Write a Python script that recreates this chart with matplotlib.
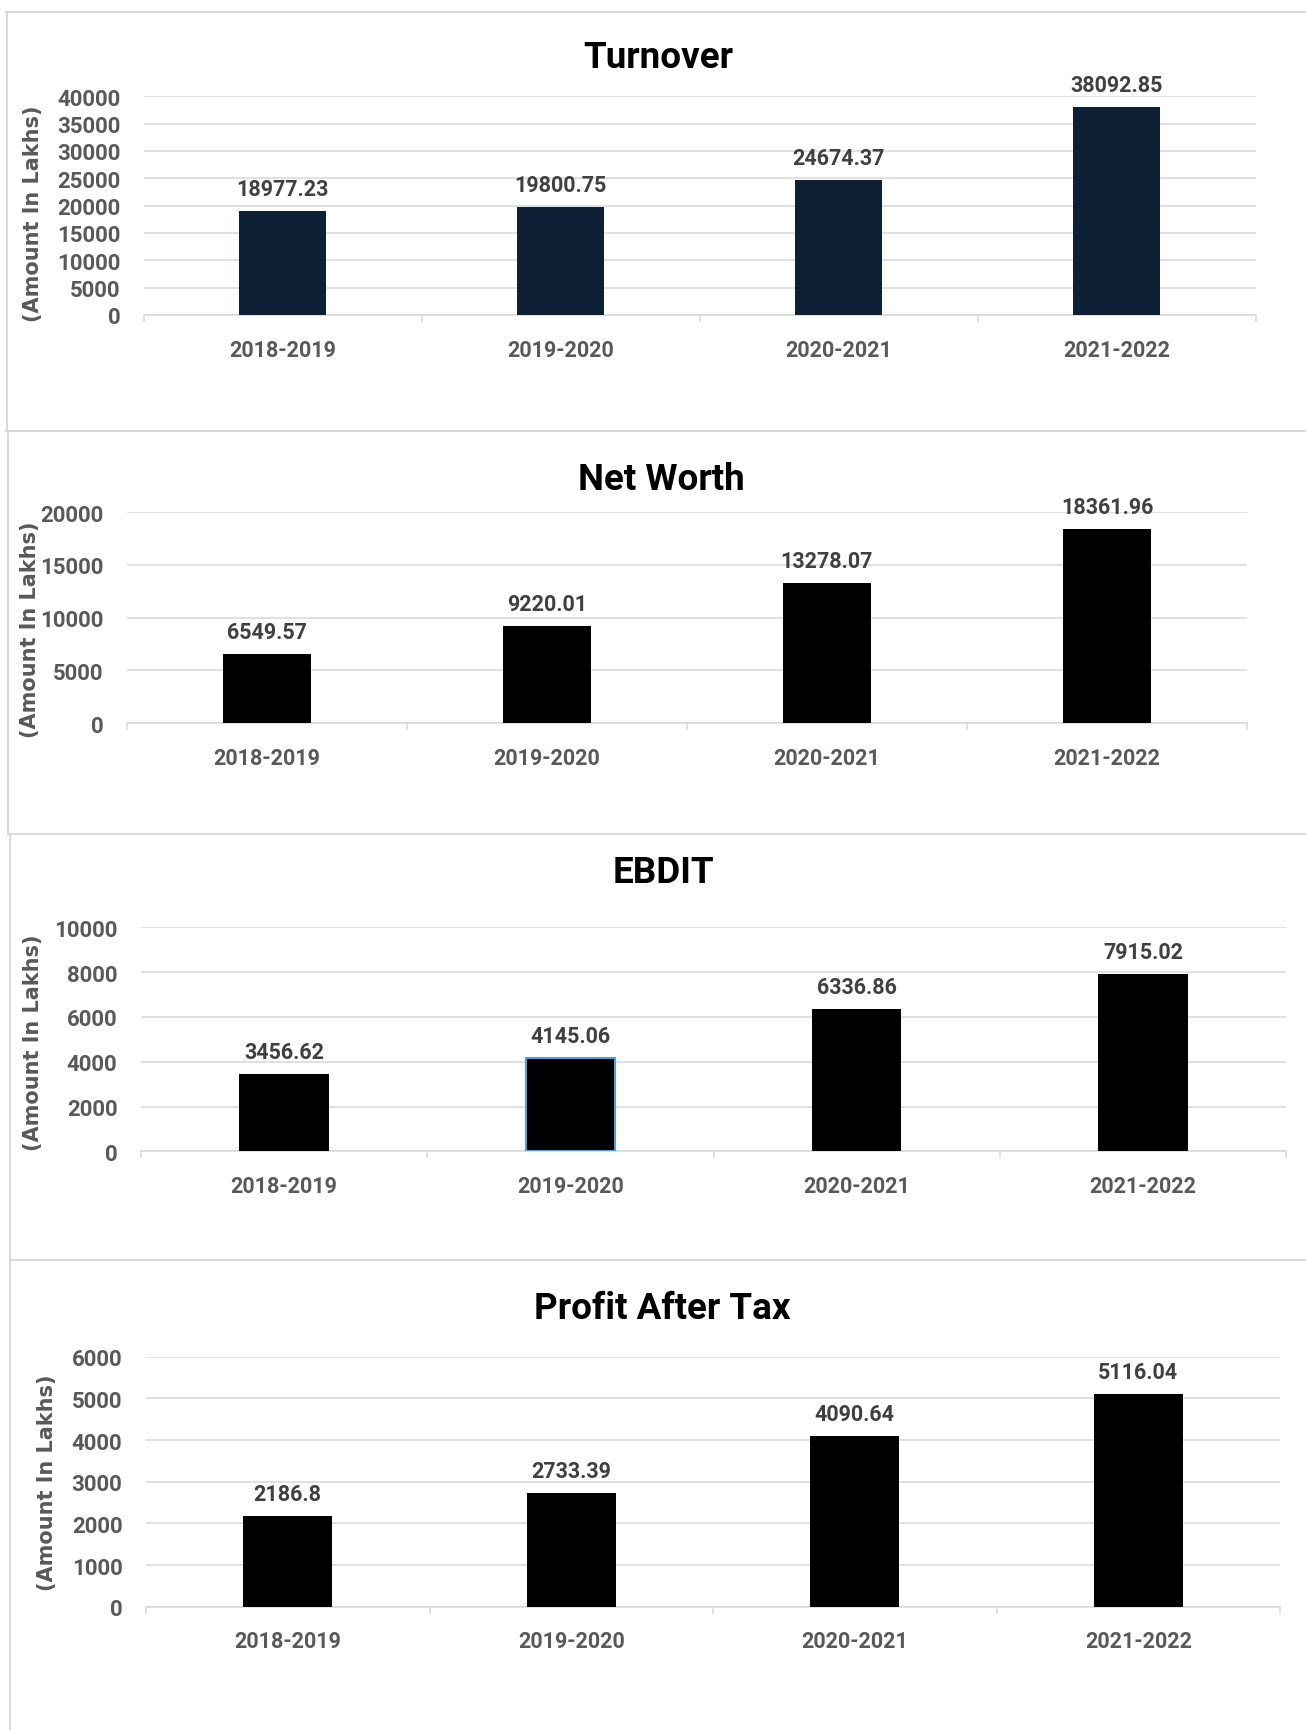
import matplotlib
matplotlib.use('Agg')
import matplotlib.pyplot as plt
from matplotlib.lines import Line2D
from matplotlib.ticker import FuncFormatter

# ---------------- data ----------------
categories = ['2018-2019', '2019-2020', '2020-2021', '2021-2022']
turnover = [18977.23, 19800.75, 24674.37, 38092.85]
net_worth = [6549.57, 9220.01, 13278.07, 18361.96]
ebdit = [3456.62, 4145.06, 6336.86, 7915.02]
profit_after_tax = [2186.8, 2733.39, 4090.64, 5116.04]
titles = ['Turnover', 'Net Worth', 'EBDIT', 'Profit After Tax']
y_label = '(Amount In Lakhs)'
y_max = [40000, 20000, 10000, 6000]
y_step = [5000, 5000, 2000, 1000]

# ---------------- layout / style ----------------
W, H, DPI = 1306, 1731, 100
FONT = ['Roboto', 'DejaVu Sans']
GRID = '#D9D9D9'
TICK_C = '#595959'
VAL_C = '#404040'

layout = [
    # axes box in px: x0, x1, y_top, y_zero ; title (x, baseline) ; ylabel centre
    dict(box=(143.8, 1256, 97.3, 316.0), title=(658.5, 68), ylab=(33, 214),
         color='#0E2035'),
    dict(box=(126.8, 1247, 513.0, 724.3), title=(661, 490), ylab=(30, 630),
         color='#000000'),
    dict(box=(141.0, 1286, 928.3, 1152.3), title=(663, 883), ylab=(33.5, 1043),
         color='#000000'),
    dict(box=(146.0, 1280, 1357.7, 1607.7), title=(662, 1319), ylab=(47, 1483),
         color='#000000'),
]
series = [turnover, net_worth, ebdit, profit_after_tax]

fig = plt.figure(figsize=(W / DPI, H / DPI), dpi=DPI)
fig.patch.set_facecolor('white')


def fx(x):
    return x / W


def fy(y):
    return 1 - y / H


# panel borders
border_lines = [
    ((6, W), (13, 13)), ((6, W), (432, 432)), ((8, W), (835, 835)), ((10, W), (1261, 1261)),
    ((7, 7), (13, 432)), ((8, 8), (432, 835)), ((10, 10), (835, H)),
]
for xs, ys in border_lines:
    fig.add_artist(Line2D([fx(v) for v in xs], [fy(v) for v in ys],
                          color=GRID, lw=1.5, transform=fig.transFigure))

for i, (vals, lay) in enumerate(zip(series, layout)):
    x0, x1, yt, yz = lay['box']
    ax = fig.add_axes([fx(x0), fy(yz), (x1 - x0) / W, (yz - yt) / H])
    xs = list(range(len(categories)))
    edge = ['none'] * len(vals)
    if i == 2:
        edge[1] = '#5B9BD5'
    ax.bar(xs, vals, width=0.313, color=lay['color'], edgecolor=edge,
           linewidth=1.5, zorder=3)
    ax.set_xlim(-0.5, len(categories) - 0.5)
    ax.set_ylim(0, y_max[i])
    ax.set_yticks(list(range(0, y_max[i] + 1, y_step[i])))
    ax.yaxis.set_major_formatter(FuncFormatter(lambda v, p: f'{int(v)}'))
    ax.yaxis.grid(True, color=GRID, lw=1.1)
    ax.set_axisbelow(True)
    for s in ('top', 'left', 'right'):
        ax.spines[s].set_visible(False)
    ax.spines['bottom'].set_color(GRID)
    ax.spines['bottom'].set_linewidth(1.1)
    ax.set_xticks(xs)
    ax.set_xticklabels(categories)
    ax.set_xticks([k - 0.5 for k in range(len(categories) + 1)], minor=True)
    ax.tick_params(axis='x', which='major', length=0, pad=17, labelsize=15.5,
                   labelcolor=TICK_C)
    ax.tick_params(axis='x', which='minor', length=5, width=1.1, color=GRID,
                   direction='out')
    ax.tick_params(axis='y', length=0, pad=17, labelsize=16, labelcolor=TICK_C)
    for lab in ax.get_xticklabels() + ax.get_yticklabels():
        lab.set_fontweight('bold')
        lab.set_family(FONT)
    for k, v in enumerate(vals):
        ax.annotate(str(v), (k, v), xytext=(0, 11.5), textcoords='offset points',
                    ha='center', va='baseline', fontsize=15.5, fontweight='bold',
                    color=VAL_C, family=FONT)
    tx, ty = lay['title']
    fig.text(fx(tx), fy(ty), titles[i], ha='center', va='baseline', fontsize=26.5,
             fontweight='bold', color='black', family=FONT)
    lx, ly = lay['ylab']
    fig.text(fx(lx), fy(ly), y_label, rotation=90, ha='center', va='center',
             fontsize=15, fontweight='bold', color=TICK_C, family=['DejaVu Sans'])

fig.savefig('out.png', dpi=DPI, facecolor='white')
